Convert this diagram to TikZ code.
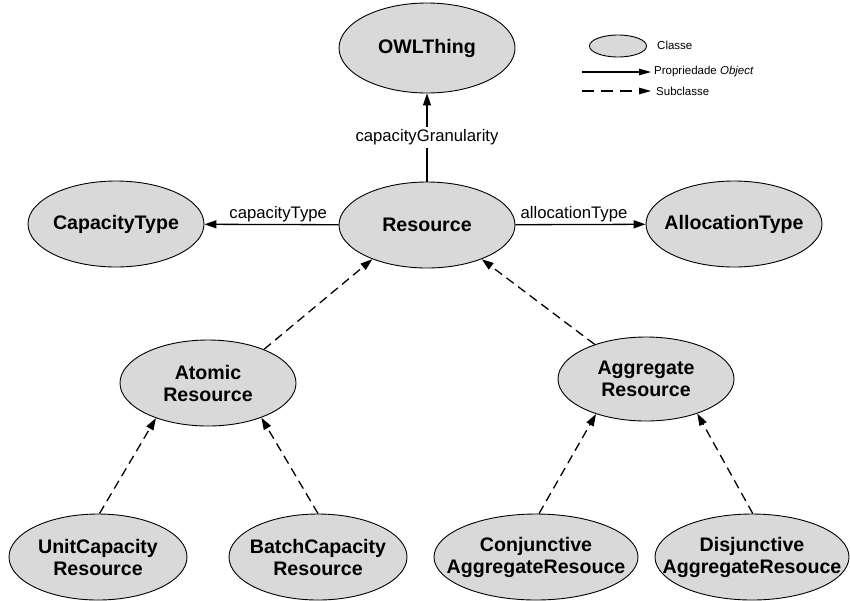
\documentclass[tikz,border=0pt]{standalone}
\usepackage{fontspec}
\setmainfont{Liberation Sans}
\usetikzlibrary{shapes.geometric,arrows.meta}

\definecolor{classfill}{HTML}{D9D9D9}

\tikzset{
  cls/.style={ellipse, draw=black, line width=0.9pt, fill=classfill, inner sep=0pt,
              minimum width=176pt, minimum height=86pt},
  cname/.style={font=\fontsize{19.6}{22}\selectfont\bfseries, align=center, inner sep=0pt},
  prop/.style={line width=1.3pt, -{Triangle[length=12pt,width=8pt]}},
  sub/.style={line width=1.3pt, dash pattern=on 9pt off 5.5pt, -{Triangle[length=12pt,width=8pt]}},
  elbl/.style={font=\fontsize{16.7}{18}\selectfont, inner sep=2pt},
  leg/.style={font=\fontsize{11.5}{13}\selectfont, anchor=west, inner sep=0pt},
  legprop/.style={line width=1.2pt, -{Triangle[length=12pt,width=6.5pt]}},
  legsub/.style={line width=1.2pt, dash pattern=on 12pt off 7pt, -{Triangle[length=12pt,width=6.5pt]}}
}

\begin{document}
\begin{tikzpicture}[x=1pt, y=-1pt]
\useasboundingbox (0,0) rectangle (850,600);

% classes
\node[cls, minimum height=90pt, label={[cname]center:OWLThing}] (owl) at (427,48) {};
\node[cls, label={[cname]center:Resource}] (res) at (427,225) {};
\node[cls, label={[cname]center:CapacityType}] (cap) at (116,224) {};
\node[cls, label={[cname]center:AllocationType}] (alloc) at (734,224) {};
\node[cls, label={[cname]center:{Atomic\\Resource}}] (atomic) at (208,383) {};
\node[cls, minimum height=84pt, label={[cname]center:{Aggregate\\Resource}}] (aggr) at (646,379) {};
\node[cls, minimum width=178pt, label={[cname]center:{UnitCapacity\\Resource}}] (unit) at (98,557) {};
\node[cls, minimum width=178pt, label={[cname]center:{BatchCapacity\\Resource}}] (batch) at (318,557) {};
\node[cls, minimum width=204pt, label={[cname]center:{Conjunctive\\AggregateResouce}}] (conj) at (536,557) {};
\node[cls, minimum width=194pt, label={[cname]center:{Disjunctive\\AggregateResouce}}] (disj) at (752,557) {};

% object properties
\draw[prop] (res) -- node[elbl, fill=white, inner sep=3pt] {capacityGranularity} (owl);
\draw[prop] (res) -- node[elbl, above, pos=0.45] {capacityType} (cap);
\draw[prop] (res) -- node[elbl, above, pos=0.45] {allocationType} (alloc);

% subclass relations
\draw[sub] (atomic.31) -- (res.212);
\draw[sub] (aggr.146) -- (res.328);
\draw[sub] (unit.88) -- (atomic.214);
\draw[sub] (batch.90) -- (atomic.327);
\draw[sub] (conj.86) -- (aggr.215);
\draw[sub] (disj.89) -- (aggr.326);

% legend
\node[ellipse, draw=black, line width=0.9pt, fill=classfill, inner sep=0pt,
      minimum width=57pt, minimum height=22pt] (legcls) at (618,46) {};
\node[leg] (legclstxt) at (657,45) {Classe};
\coordinate (lpa) at (582,72);
\coordinate (lpb) at (651,72);
\draw[legprop] (lpa) -- (lpb);
\node[leg] (legproptxt) at (654,72) {Propriedade \textit{Object}};
\coordinate (lsa) at (582,91);
\coordinate (lsb) at (651,91);
\draw[legsub] (lsa) -- (lsb);
\node[leg] (legsubtxt) at (656,91) {Subclasse};
\end{tikzpicture}
\end{document}
